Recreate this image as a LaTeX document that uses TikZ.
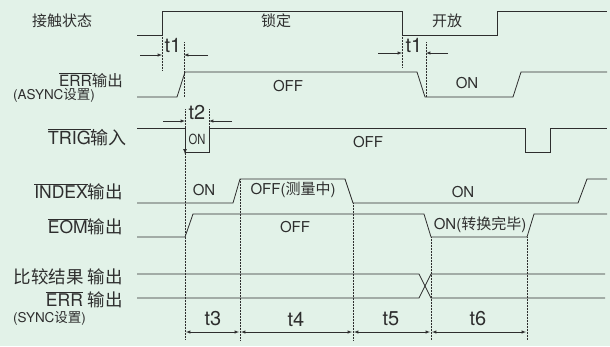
\documentclass[tikz,border=0pt]{standalone}
\usepackage{fontspec}
\setmainfont{TeX Gyre Heros}
\newfontfamily\cjk{Noto Sans CJK SC}
\definecolor{bg}{HTML}{E2F2E8}
\definecolor{ink}{HTML}{2E2E2E}
\newcommand\olin[1]{$\overline{\mbox{#1}}$}
\tikzset{
  wave/.style={ink, line width=0.8pt},
  guide/.style={ink, densely dotted, line width=0.5pt},
  dim/.style={ink, >=latex, line width=0.5pt},
  lbl/.style={ink, inner sep=0pt, font=\fontsize{17.5}{20}\selectfont},
  note/.style={ink, inner sep=0pt, font=\fontsize{13.5}{15}\selectfont},
  val/.style={ink, inner sep=0pt, font=\fontsize{15}{17}\selectfont},
  tlab/.style={ink, inner sep=0pt, font=\fontsize{20}{22}\selectfont}
}
\begin{document}
\begin{tikzpicture}[x=1pt,y=-1pt]
\fill [bg] (0,0) rectangle (610,346);
\useasboundingbox (0,0) rectangle (610,346);

% signal names
\node [val, anchor=west] (contact) at (32,21) {\cjk 接触状态};
\node [lbl, anchor=east, font=\fontsize{15.5}{17}\selectfont] (errA) at (123,80) {\olin{ERR}{\cjk 输出}};
\node [note, anchor=west] (async) at (13,95) {(ASYNC{\cjk 设置})};
\node [lbl, anchor=east, font=\fontsize{18}{20}\selectfont] (trig) at (127,137) {\olin{TRIG}{\cjk 输入}};
\node [lbl, anchor=east] (index) at (123,192) {\olin{INDEX}{\cjk 输出}};
\node [lbl, anchor=east] (eom) at (123,227) {\olin{EOM}{\cjk 输出}};
\node [lbl, anchor=east] (comp) at (123,277) {\cjk 比较结果 输出};
\node [lbl, anchor=east] (errS) at (123,300) {\olin{ERR}\ {\cjk 输出}};
\node [note, anchor=west] (sync) at (13,318) {(SYNC{\cjk 设置})};

% waveforms
\draw [wave] (137,35) -- (162,35) -- (162,11) -- (402,11) -- (402,35) -- (497,35) -- (497,11) -- (607,11);
\draw [wave] (137,97) -- (177,97) -- (185,72) -- (417,72) -- (425,97) -- (513,97) -- (521,72) -- (607,72);
\draw [wave] (137,128) -- (185,128) -- (185,152) -- (209,152) -- (209,128) -- (525,128) -- (525,152) -- (550,152) -- (550,128) -- (607,128);
\draw [wave] (137,203) -- (233,203) -- (240,179) -- (345,179) -- (353,203) -- (578,203) -- (587,179) -- (607,179);
\draw [wave] (137,237) -- (185,237) -- (193,214) -- (424,214) -- (431,237) -- (527,237) -- (534,214) -- (607,214);
\draw [wave] (137,274) -- (419,274) -- (431,298) -- (605,298);
\draw [wave] (137,298) -- (419,298) -- (431,274) -- (605,274);
\draw [dim, ->, line width=0.7pt] (185,128) -- (185,154);

% states
\node [val] (lock) at (276,21) {\cjk 锁定};
\node [val] (open) at (447,21) {\cjk 开放};
\node [val] (errOff) at (288,86) {OFF};
\node [val] (errOn) at (467,83) {ON};
\node [ink, inner sep=0pt, font=\fontsize{14}{16}\selectfont, xscale=0.8] (trigOn) at (197,139) {ON};
\node [val] (trigOff) at (368,142) {OFF};
\node [val] (idxOn) at (204,190) {ON};
\node [val] (idxOff) at (293,190) {OFF({\cjk 测量中})};
\node [val] (idxOn2) at (463,192) {ON};
\node [val] (eomOff) at (295,227) {OFF};
\node [val] (eomOn) at (480,225) {ON({\cjk 转换完毕})};

% guides
\draw [guide] (162,35) -- (162,70);
\draw [guide] (184,42) -- (184,97);
\draw [guide] (402,35) -- (402,67);
\draw [guide] (426,42) -- (426,97);
\draw [guide] (185,109) -- (185,340);
\draw [guide] (209,109) -- (209,128);
\draw [guide] (240,179) -- (240,340);
\draw [guide] (353,203) -- (353,340);
\draw [guide] (431,237) -- (431,340);
\draw [guide] (527,237) -- (527,340);

% times
\draw [dim, ->] (140,55) -- (162,55);
\draw [dim, ->] (208,55) -- (184,55);
\node [tlab] (t1a) at (173,45) {t1};
\draw [dim, ->] (378,53) -- (402,53);
\draw [dim, ->] (448,53) -- (426,53);
\node [tlab] (t1b) at (414,45) {t1};
\draw [dim, ->] (163,121) -- (185,121);
\draw [dim, ->] (232,121) -- (209,121);
\node [tlab] (t2) at (197,112) {t2};
\draw [dim, <->] (186,332) -- (239,332);
\draw [dim, <->] (241,332) -- (352,332);
\draw [dim, <->] (354,332) -- (430,332);
\draw [dim, <->] (432,332) -- (526,332);
\node [tlab] (t3) at (213,319) {t3};
\node [tlab] (t4) at (296,319) {t4};
\node [tlab] (t5) at (391,319) {t5};
\node [tlab] (t6) at (478,319) {t6};
\end{tikzpicture}
\end{document}
